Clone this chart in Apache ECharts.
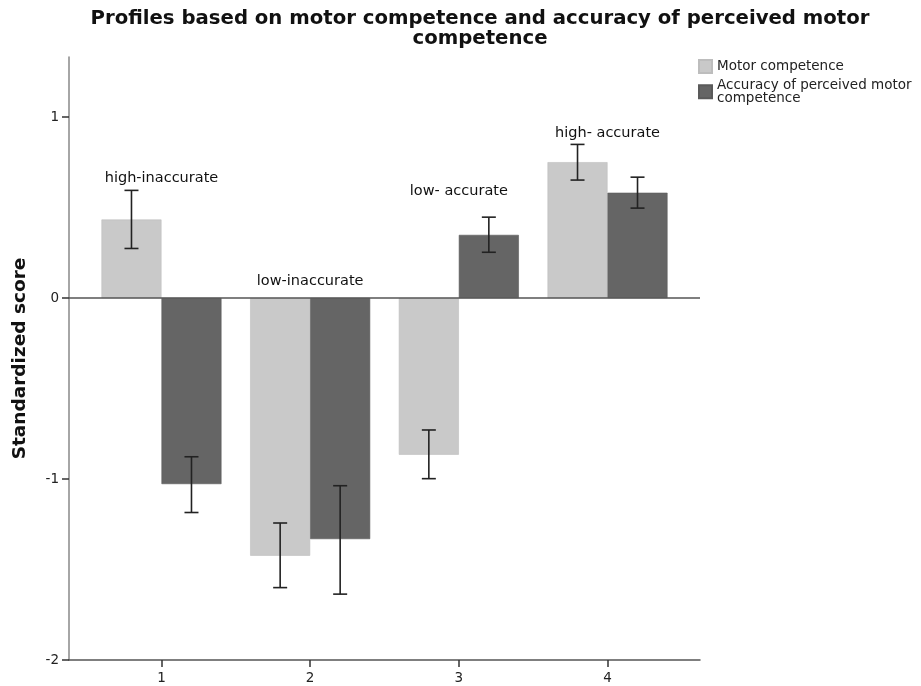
<!DOCTYPE html>
<html>
<head>
<meta charset="utf-8">
<title>Profiles based on motor competence and accuracy of perceived motor competence</title>
<script src="https://cdn.jsdelivr.net/npm/echarts@6/dist/echarts.min.js"></script>
<style>
  html, body { margin: 0; padding: 0; background: #fff; }
  #chart { width: 921px; height: 686px; }
</style>
</head>
<body>
<div id="chart"></div>
<script>
// Profile groups (x positions) and their annotations
const profiles = [1, 2, 3, 4];
const profileNames = ['high-inaccurate', 'low-inaccurate', 'low- accurate', 'high- accurate'];
const profileNameY = [0.66, 0.093, 0.589, 0.911];

// Motor competence: mean standardized score with error bar limits
const mcMean = [0.434, -1.424, -0.866, 0.751];
const mcLow  = [0.274, -1.600, -0.998, 0.652];
const mcHigh = [0.595, -1.243, -0.729, 0.849];

// Accuracy of perceived motor competence
const apmcMean = [-1.028, -1.332, 0.349, 0.582];
const apmcLow  = [-1.185, -1.636, 0.253, 0.497];
const apmcHigh = [-0.877, -1.037, 0.447, 0.668];

const yTicks = [-2, -1, 0, 1];

const SERIES_MC = 'Motor competence';
const SERIES_APMC = 'Accuracy of perceived motor competence';
const BAR_W = 60;
const FONT = '"DejaVu Sans", sans-serif';

function pairs(xs, ys) { return xs.map((x, i) => [x, ys[i]]); }

// Error bars drawn as I-beams, shifted left/right to sit on the matching bar
function errorBarSeries(means, lows, highs, shift) {
  return {
    type: 'custom',
    z: 10,
    silent: true,
    data: profiles.map((x, i) => [x, lows[i], highs[i], means[i]]),
    encode: { x: 0, y: [1, 2] },
    renderItem: function (params, api) {
      const x = api.value(0);
      const lo = api.coord([x, api.value(1)]);
      const hi = api.coord([x, api.value(2)]);
      const cx = lo[0] + shift;
      const cap = 7;
      const style = { stroke: '#222', lineWidth: 1.6 };
      return {
        type: 'group',
        children: [
          { type: 'line', shape: { x1: cx, y1: hi[1], x2: cx, y2: lo[1] }, style: style },
          { type: 'line', shape: { x1: cx - cap, y1: hi[1], x2: cx + cap, y2: hi[1] }, style: style },
          { type: 'line', shape: { x1: cx - cap, y1: lo[1], x2: cx + cap, y2: lo[1] }, style: style }
        ]
      };
    }
  };
}

const chart = echarts.init(document.getElementById('chart'), null, { renderer: 'canvas' });

chart.setOption({
  animation: false,
  backgroundColor: '#fff',
  textStyle: { fontFamily: FONT },
  graphic: [{
    type: 'text',
    x: 480,
    y: 9,
    style: {
      text: 'Profiles based on motor competence and accuracy of perceived motor\ncompetence',
      textAlign: 'center',
      textVerticalAlign: 'top',
      fontFamily: FONT,
      fontWeight: 'bold',
      fontSize: 19.7,
      lineHeight: 20,
      fill: '#111'
    }
  }],
  legend: {
    orient: 'vertical',
    left: 693,
    top: 54,
    itemWidth: 13,
    itemHeight: 13,
    itemGap: 4,
    icon: 'rect',
    data: [SERIES_MC, SERIES_APMC],
    formatter: function (name) {
      return name === SERIES_APMC ? 'Accuracy of perceived motor\ncompetence' : name;
    },
    textStyle: { fontFamily: FONT, fontSize: 13.5, lineHeight: 13.5, color: '#222' }
  },
  grid: { left: 69, right: 221, top: 57, bottom: 26, containLabel: false },
  xAxis: {
    type: 'value',
    min: 0.378,
    max: 4.622,
    splitLine: { show: false },
    axisLine: { show: true, onZero: false, lineStyle: { color: '#555', width: 1.5 } },
    axisTick: { show: true, customValues: profiles, length: 7, lineStyle: { color: '#333', width: 1.5 } },
    axisLabel: { customValues: profiles, margin: 11, fontSize: 13.5, color: '#222', fontFamily: FONT }
  },
  yAxis: {
    type: 'value',
    min: -2,
    max: 1.332,
    interval: 1,
    name: 'Standardized score',
    nameLocation: 'middle',
    nameRotate: 90,
    nameGap: 39,
    nameTextStyle: { fontFamily: FONT, fontWeight: 'bold', fontSize: 18.5, color: '#111' },
    splitLine: { show: false },
    axisLine: { show: true, lineStyle: { color: '#888', width: 1.5 } },
    axisTick: { show: true, customValues: yTicks, length: 7, lineStyle: { color: '#333', width: 1.5 } },
    axisLabel: {
      margin: 10, fontSize: 13.5, color: '#222', fontFamily: FONT,
      customValues: yTicks,
      formatter: function (v) { return String(v); }
    }
  },
  series: [
    {
      name: SERIES_MC,
      type: 'bar',
      barWidth: BAR_W,
      barGap: '0%',
      itemStyle: { color: '#c9c9c9', borderColor: '#bdbdbd', borderWidth: 0.6 },
      data: pairs(profiles, mcMean),
      markLine: {
        silent: true,
        symbol: 'none',
        label: { show: false },
        lineStyle: { color: '#555', width: 1.5, type: 'solid' },
        data: [{ yAxis: 0 }]
      }
    },
    {
      name: SERIES_APMC,
      type: 'bar',
      barWidth: BAR_W,
      barGap: '0%',
      itemStyle: { color: '#656565', borderColor: '#5a5a5a', borderWidth: 0.6 },
      data: pairs(profiles, apmcMean)
    },
    errorBarSeries(mcMean, mcLow, mcHigh, -BAR_W / 2),
    errorBarSeries(apmcMean, apmcLow, apmcHigh, BAR_W / 2),
    {
      // profile names written above each group
      type: 'scatter',
      symbolSize: 0,
      silent: true,
      z: 12,
      itemStyle: { opacity: 1 },
      data: profiles.map((x, i) => ({ value: [x, profileNameY[i]], name: profileNames[i] })),
      label: {
        show: true,
        position: 'inside',
        opacity: 1,
        formatter: function (p) { return p.name; },
        fontFamily: FONT,
        fontSize: 14.5,
        color: '#111'
      }
    }
  ]
});
</script>
</body>
</html>
